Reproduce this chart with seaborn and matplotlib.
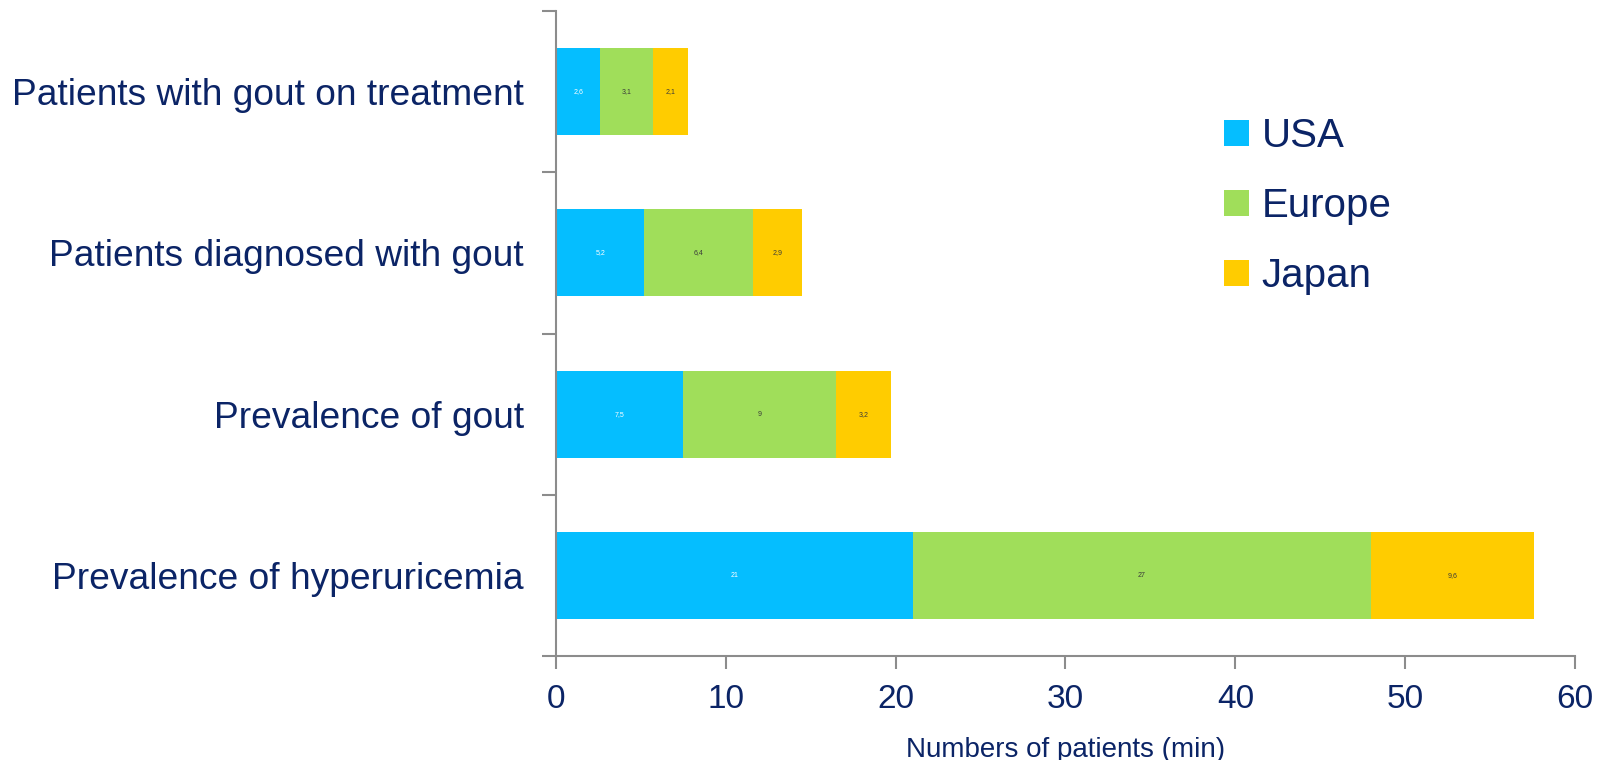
import matplotlib
matplotlib.use("Agg")
import matplotlib.pyplot as plt
import seaborn as sns
import numpy as np
import pandas as pd
from matplotlib.patches import Patch

categories = ["Patients with gout on treatment", "Patients diagnosed with gout",
              "Prevalence of gout", "Prevalence of hyperuricemia"]
usa = [2.6, 5.2, 7.5, 21]
europe = [3.1, 6.4, 9, 27]
japan = [2.1, 2.9, 3.2, 9.6]
series_names = ["USA", "Europe", "Japan"]
colors = ["#05BEFF", "#A0DE5A", "#FFCC00"]
label_colors = ["#FFFFFF", "#3A3A3A", "#3A3A3A"]
xticks = [0, 10, 20, 30, 40, 50, 60]
xlabel = "Numbers of patients (min)"

navy = "#0B2466"
gray = "#8C8C8C"

sns.set_theme(style="white")
plt.rcParams['font.family'] = ['Liberation Sans', 'DejaVu Sans']

fig = plt.figure(figsize=(16.06, 7.6), dpi=100)
ax = fig.add_axes([556/1606, 1-656/760, (1575-556)/1606, (656-11)/760])

df = pd.DataFrame({"cat": categories, "USA": usa, "Europe": europe, "Japan": japan})
df["c1"] = df["USA"]
df["c2"] = df["USA"] + df["Europe"]
df["c3"] = df["c2"] + df["Japan"]

for col, color in zip(["c3", "c2", "c1"], colors[::-1]):
    sns.barplot(data=df, y="cat", x=col, color=color, orient="h", width=0.54,
                saturation=1, ax=ax, edgecolor="none", linewidth=0)

# value labels
starts = [np.zeros(len(df)), df["c1"].values, df["c2"].values]
vals = [df["USA"].values, df["Europe"].values, df["Japan"].values]
for s, v, lc in zip(starts, vals, label_colors):
    for i, (ss, vv) in enumerate(zip(s, v)):
        txt = ("%g" % vv).replace(".", ",")
        ax.text(ss + vv / 2, i, txt, ha="center", va="center", fontsize=5, color=lc)

ax.set_xlim(0, 60)
ax.set_ylim(3.5, -0.5)
ax.set_xticks(xticks)
ax.set_xticklabels([str(t) for t in xticks])
ax.set_yticks(np.arange(-0.5, 4, 1))
ax.set_yticklabels([])
ax.set_yticks(np.arange(len(categories)), minor=True)
ax.set_yticklabels(categories, minor=True)
ax.tick_params(axis="y", which="major", length=10, width=1.5, color=gray, direction="out", left=True)
ax.tick_params(axis="y", which="minor", length=0, pad=23, labelsize=26.7, labelcolor=navy)
ax.tick_params(axis="x", which="major", length=9, width=1.5, color=gray, direction="out",
               bottom=True, pad=11, labelsize=24, labelcolor=navy)
ax.set_ylabel("")
ax.set_xlabel(xlabel, fontsize=20, color=navy, labelpad=16)

for side in ["top", "right"]:
    ax.spines[side].set_visible(False)
for side in ["left", "bottom"]:
    ax.spines[side].set_color(gray)
    ax.spines[side].set_linewidth(1.5)

handles = [Patch(facecolor=c, edgecolor="none", label=n) for c, n in zip(colors, series_names)]
fig.legend(handles=handles, loc="upper left", bbox_to_anchor=(1224/1606, 1-117/760),
           frameon=False, fontsize=29, handlelength=0.62, handleheight=0.62,
           handletextpad=0.32, labelspacing=0.8, borderpad=0, borderaxespad=0,
           labelcolor=navy)

fig.savefig("out.png", dpi=100, facecolor="white")
